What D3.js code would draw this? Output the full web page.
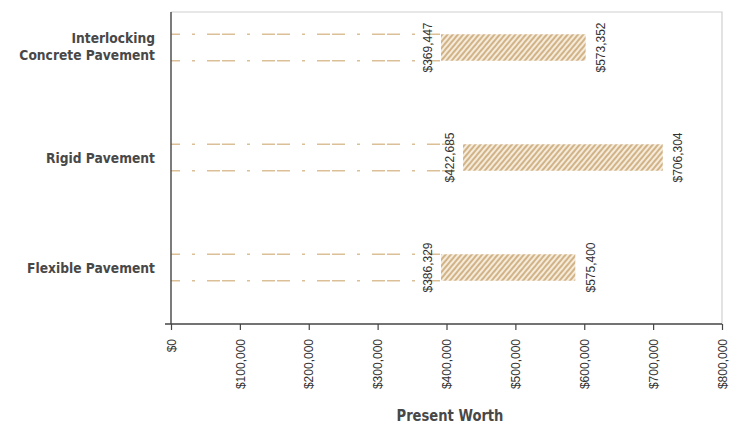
<!DOCTYPE html>
<html>
<head>
<meta charset="utf-8">
<script src="https://cdn.jsdelivr.net/npm/d3@7"></script>
<style>
  body { margin: 0; background: #fff; }
</style>
</head>
<body>
<svg id="chart" width="741" height="426"></svg>
<script>
// categories, top to bottom
const categories = [["Interlocking", "Concrete Pavement"], ["Rigid Pavement"], ["Flexible Pavement"]];
// bar extents
const barStart = [392000, 424000, 392000];
const barEnd = [602000, 714000, 587000];
// value labels as printed
const startLabels = ["$369,447", "$422,685", "$386,329"];
const endLabels = ["$573,352", "$706,304", "$575,400"];
const xTicks = [0, 100000, 200000, 300000, 400000, 500000, 600000, 700000, 800000];

const svg = d3.select("#chart");
const plotLeft = 171, plotRight = 722, plotTop = 12, plotBottom = 324;

const x = d3.scaleLinear().domain([0, 800000]).range([plotLeft, plotRight]);
const y = d3.scalePoint().domain(d3.range(categories.length)).range([47.5, 267.5]);
const barH = 26.5;

const boldFont = "'DejaVu Sans', sans-serif";

// hatch pattern
const defs = svg.append("defs");
const pat = defs.append("pattern")
  .attr("id", "hatch")
  .attr("patternUnits", "userSpaceOnUse")
  .attr("width", 4).attr("height", 4)
  .attr("patternTransform", "rotate(40)");
pat.append("rect").attr("width", 4).attr("height", 4).attr("fill", "#f5ebdb");
pat.append("line").attr("x1", 1).attr("y1", 0).attr("x2", 1).attr("y2", 4)
  .attr("stroke", "#c6a16b").attr("stroke-width", 1.5);

// frame (top + right light grey)
svg.append("path")
  .attr("d", `M${plotLeft},${plotTop}H${plotRight}V${plotBottom}`)
  .attr("fill", "none").attr("stroke", "#d0d0d0").attr("stroke-width", 1.2);

// dashed base outlines
const rows = svg.append("g").selectAll("g").data(d3.range(categories.length)).enter().append("g");
rows.each(function (i) {
  const g = d3.select(this);
  [y(i) - barH / 2, y(i) + barH / 2].forEach(yy => {
    g.append("line")
      .attr("x1", x(0)).attr("x2", x(barStart[i]))
      .attr("y1", yy).attr("y2", yy)
      .attr("stroke", "#dbbf96").attr("stroke-width", 1.6)
      .attr("stroke-dasharray", "3,12,13,2,13,12")
      .attr("stroke-dashoffset", 34);
  });
});

// bars
rows.append("rect")
  .attr("x", i => x(barStart[i]))
  .attr("width", i => x(barEnd[i]) - x(barStart[i]))
  .attr("y", i => y(i) - barH / 2)
  .attr("height", barH)
  .attr("fill", "url(#hatch)");

// value labels
rows.append("text")
  .attr("transform", i => `translate(${x(barStart[i]) - 9},${y(i)}) rotate(-90)`)
  .attr("text-anchor", "middle")
  .style("font", "12px 'Liberation Sans', Arial, sans-serif")
  .style("fill", "#333")
  .text(i => startLabels[i]);
rows.append("text")
  .attr("transform", i => `translate(${x(barEnd[i]) + 19.5},${y(i)}) rotate(-90)`)
  .attr("text-anchor", "middle")
  .style("font", "12px 'Liberation Sans', Arial, sans-serif")
  .style("fill", "#333")
  .text(i => endLabels[i]);

// category labels (squeezed to look like a condensed face)
rows.append("text")
  .attr("transform", i => `translate(155,${y(i)}) scale(0.88,1)`)
  .attr("text-anchor", "end")
  .style("font-family", boldFont)
  .style("font-weight", "bold")
  .style("font-size", "14px")
  .style("fill", "#484848")
  .each(function (i) {
    const lines = categories[i];
    const t = d3.select(this);
    lines.forEach((l, k) => {
      t.append("tspan")
        .attr("x", 0)
        .attr("y", lines.length > 1 ? -4.5 + k * 16.5 : 5.5)
        .text(l);
    });
  });

// y axis line
svg.append("line")
  .attr("x1", plotLeft).attr("x2", plotLeft).attr("y1", plotTop).attr("y2", plotBottom)
  .attr("stroke", "#444").attr("stroke-width", 1.4);

// x axis
const xAxis = svg.append("g")
  .attr("transform", `translate(0,${plotBottom})`)
  .call(d3.axisBottom(x).tickValues(xTicks).tickSize(6).tickSizeOuter(0)
    .tickFormat(d => "$" + d3.format(",")(d)));
xAxis.select(".domain").remove();
xAxis.append("line").attr("x1", plotLeft - 6).attr("x2", plotRight).attr("stroke", "#444").attr("stroke-width", 1.4);
xAxis.selectAll(".tick line").attr("stroke", "#444").attr("stroke-width", 1.2);
xAxis.selectAll(".tick text")
  .attr("transform", "rotate(-90)")
  .attr("text-anchor", "end")
  .attr("x", -15).attr("y", 0).attr("dy", "0.35em")
  .style("font", "12px 'Liberation Sans', Arial, sans-serif")
  .style("fill", "#333");

// axis title
svg.append("text")
  .attr("transform", "translate(450,421) scale(0.82,1)")
  .attr("text-anchor", "middle")
  .style("font-family", boldFont)
  .style("font-weight", "bold")
  .style("font-size", "16px")
  .style("fill", "#484848")
  .text("Present Worth");
</script>
</body>
</html>
